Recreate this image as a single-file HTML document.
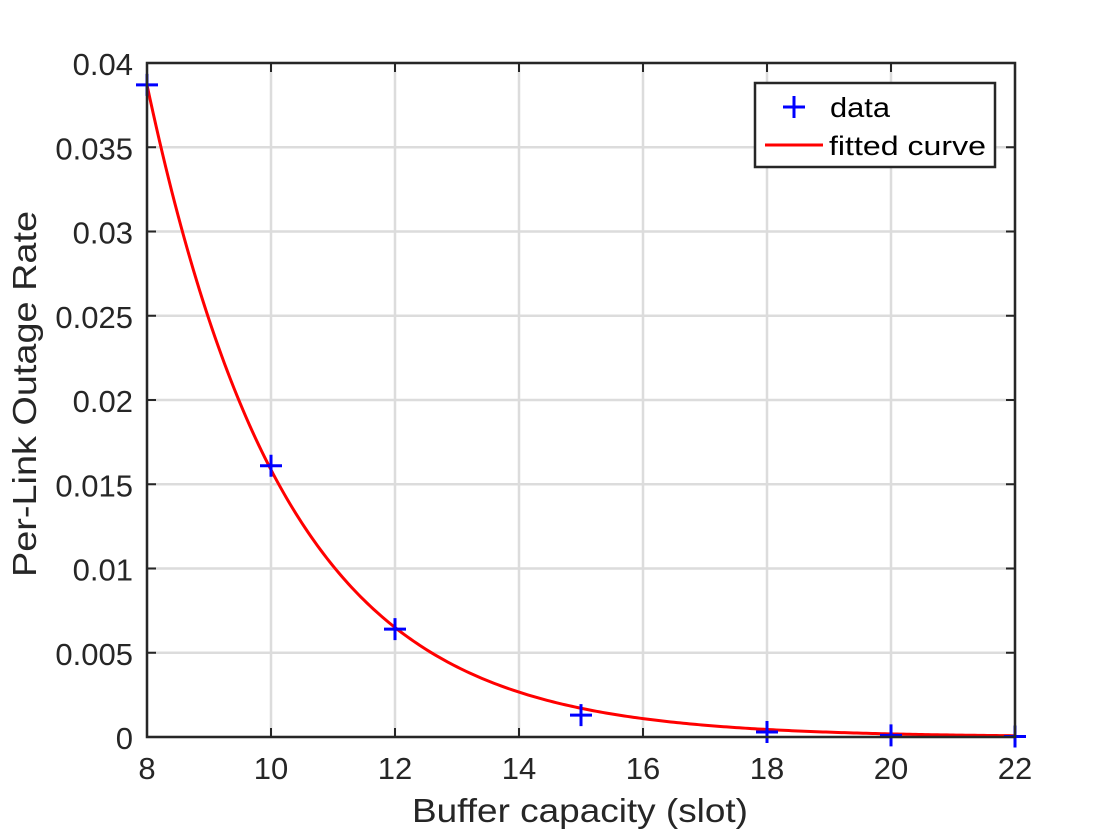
<!DOCTYPE html>
<html><head><meta charset="utf-8"><style>
html,body{margin:0;padding:0;background:#fff;}
svg{display:block;font-family:"Liberation Sans",sans-serif;}
</style></head><body>
<svg id="chart" width="1120" height="840" viewBox="0 0 1120 840">
<rect x="0" y="0" width="1120" height="840" fill="#fff"/>
<g id="grid"></g>
<g id="ticks"></g>
<clipPath id="clip"><rect x="147" y="63" width="868" height="674"/></clipPath>
<path id="curve" fill="none" stroke="#ff0000" stroke-width="3" clip-path="url(#clip)"/>
<g id="points"></g>
<rect x="147" y="63" width="868" height="674" fill="none" stroke="#262626" stroke-width="2.5"/>
<text x="580" y="822" text-anchor="middle" font-size="33" textLength="336" lengthAdjust="spacingAndGlyphs" fill="#262626">Buffer capacity (slot)</text>
<text transform="translate(36,394) rotate(-90)" text-anchor="middle" font-size="33" textLength="366" lengthAdjust="spacingAndGlyphs" fill="#262626">Per-Link Outage Rate</text>
<g>
<rect x="755" y="83" width="240" height="84" fill="#fff" stroke="#262626" stroke-width="2.5"/>
<g>
<path d="M794 96 v22 M783 107 h22" stroke="#0000ff" stroke-width="3"/>
<text x="830" y="117" font-size="28" textLength="60" lengthAdjust="spacingAndGlyphs" fill="#000">data</text>
</g>
<g>
<path d="M765 145 h58" stroke="#ff0000" stroke-width="3"/>
<text x="829" y="155" font-size="27" textLength="157" lengthAdjust="spacingAndGlyphs" fill="#000">fitted curve</text>
</g>
</g>
</svg>
<script>
const xData = [8, 10, 12, 15, 18, 20, 22];
const yData = [0.0387, 0.0161, 0.0064, 0.0013, 0.0003, 0.0001, 0.00003];
const fitA = [0.0387];
const fitB = [-0.446];
const xTicks = [8, 10, 12, 14, 16, 18, 20, 22];
const yTicks = [0, 0.005, 0.01, 0.015, 0.02, 0.025, 0.03, 0.035, 0.04];
const yTickLabels = ["0", "0.005", "0.01", "0.015", "0.02", "0.025", "0.03", "0.035", "0.04"];
const NS = "http://www.w3.org/2000/svg";
const X0=147, X1=1015, Y0=737, Y1=63;
function sx(v){return X0+(v-8)/(22-8)*(X1-X0);}
function sy(v){return Y0-(v/0.04)*(Y0-Y1);}
const grid=document.getElementById('grid'), ticks=document.getElementById('ticks');
function mk(tag,attrs,parent){const e=document.createElementNS(NS,tag);for(const k in attrs)e.setAttribute(k,attrs[k]);parent.appendChild(e);return e;}
xTicks.forEach(v=>{
  const x=sx(v);
  const g=mk('line',{x1:x,x2:x,y1:Y1,y2:Y0,stroke:'#dcdcdc','stroke-width':2.5},grid);
  
  
  mk('line',{x1:x,x2:x,y1:Y0,y2:Y0-9,stroke:'#262626','stroke-width':2},ticks);
  mk('line',{x1:x,x2:x,y1:Y1,y2:Y1+9,stroke:'#262626','stroke-width':2},ticks);
  const t=mk('text',{x:x,y:779,'text-anchor':'middle','font-size':31,fill:'#262626'},ticks);
  t.textContent=v;
  
  
});
yTicks.forEach((v,i)=>{
  const y=sy(v);
  const g=mk('line',{x1:X0,x2:X1,y1:y,y2:y,stroke:'#dcdcdc','stroke-width':2.5},grid);
  
  
  mk('line',{x1:X0,x2:X0+9,y1:y,y2:y,stroke:'#262626','stroke-width':2},ticks);
  mk('line',{x1:X1,x2:X1-9,y1:y,y2:y,stroke:'#262626','stroke-width':2},ticks);
  const t=mk('text',{x:133,y:y+12,'text-anchor':'end','font-size':31,fill:'#262626'},ticks);
  t.textContent=yTickLabels[i];
  
  
});
let d='';
for(let i=0;i<=280;i++){const xv=8+14*i/280;const yv=fitA[0]*Math.exp(fitB[0]*(xv-8));d+=(i?'L':'M')+sx(xv).toFixed(2)+' '+sy(yv).toFixed(2);}
document.getElementById('curve').setAttribute('d',d);
const pts=document.getElementById('points');
xData.forEach((xv,i)=>{
  const x=sx(xv),y=sy(yData[i]);
  const p=mk('path',{d:`M${x-11} ${y}h22M${x} ${y-11}v22`,stroke:'#0000ff','stroke-width':3},pts);
  
  
});
</script>
</body></html>
